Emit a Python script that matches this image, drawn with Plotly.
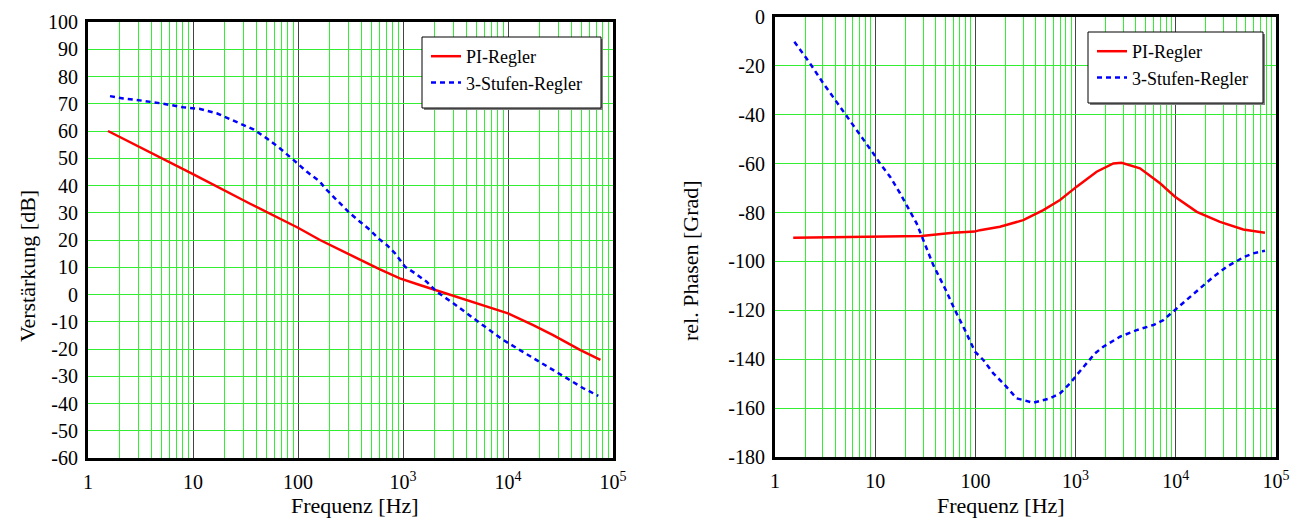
import plotly.graph_objects as go

# ---------------- data ----------------
# Gain (left plot)
pi_gain_f = [1.55, 3, 10, 35, 100, 162, 200, 251, 389, 603, 933, 1445, 2090, 3467, 6310, 10000,
             17380, 26900, 49000, 75900]
pi_gain_db = [60, 54.5, 44.2, 33.3, 24.5, 20.0, 18.2, 16.4, 12.8, 9.2, 5.9, 3.5, 1.5, -1.0, -4.2,
              -6.9, -11.2, -14.9, -20.4, -24.0]

st_gain_f = [1.62, 2.17, 2.91, 4.85, 8.09, 11.7, 16.8, 28.1, 37.6, 50.4, 67.5, 90.4, 121, 162, 181,
             225, 313, 389, 485, 582, 700, 839, 1045, 1300, 1679, 2094, 3013, 4677, 6745, 9016,
             13000, 18750, 25120, 36220, 52120, 72440]
st_gain_db = [72.8, 71.9, 71.4, 70.2, 68.7, 68.1, 66.5, 62.6, 60.6, 57.3, 53.6, 49.4, 45.1, 41.4,
              39.0, 35.3, 29.8, 26.7, 23.7, 20.6, 18.2, 15.1, 10.2, 7.8, 4.7, 1.0, -3.2, -8.7,
              -13.0, -16.7, -20.4, -24.0, -27.1, -30.7, -34.4, -37.2]

# Phase (right plot)
pi_phase_f = [1.52, 5, 10, 29, 60, 98, 111, 176, 300, 476, 699, 1025, 1622, 2380, 2880, 4390,
              6960, 9820, 16200, 27600, 47200, 77600]
pi_phase_deg = [-90.3, -90.1, -90.0, -89.6, -88.3, -87.8, -87.2, -85.8, -83.1, -79.0, -74.9, -69.4,
                -63.3, -59.9, -59.6, -61.9, -68.0, -73.5, -79.7, -83.8, -86.9, -88.3]

st_phase_f = [1.56, 2.23, 3.03, 4.13, 5.0, 6.53, 7.91, 9.57, 11.17, 14.06, 17.7, 21.4, 25.9, 29.1,
              38, 49.7, 62.5, 78.7, 99, 120, 151, 190, 258, 378, 555, 699, 880, 1025, 1290, 1563,
              1890, 2775, 4070, 5970, 7500, 9820, 13300, 18100, 23700, 32200, 47200, 59400, 77600]
st_phase_deg = [-10.1, -18.9, -27.1, -34.7, -39.4, -46.2, -51.0, -55.8, -59.9, -65.3, -72.1, -78.3,
                -84.4, -89.6, -101.5, -111.0, -119.9, -128.1, -136.9, -140.3, -145.8, -149.9,
                -156.0, -157.8, -156.0, -154.0, -149.9, -146.5, -141.7, -137.6, -134.9, -130.8,
                -128.1, -126.0, -124.0, -119.9, -115.1, -110.3, -106.3, -102.2, -98.3, -96.7, -95.6]

series_names = ["PI-Regler", "3-Stufen-Regler"]

# tick labels
x_decades = [1, 10, 100, 1000, 10000, 100000]
x_decade_labels = ["1", "10", "100", "10<sup>3</sup>", "10<sup>4</sup>", "10<sup>5</sup>"]
gain_ticks = list(range(-60, 101, 10))
phase_ticks = list(range(-180, 1, 20))

# ---------------- styling ----------------
W, H = 1297, 518
FONT = "Liberation Serif"
GREEN = "#33EE33"
DECADE = "#444444"
RED = "#FF0000"
BLUE = "#0000FF"

# minor log grid positions 2..9 x 10^k (drawn as green grid)
minor_vals = [d * m for d in x_decades[:-1] for m in range(2, 10)]


def px_x(p):
    return p / W


def px_y(p):
    return 1 - p / H


fig = go.Figure()

fig.add_trace(go.Scatter(x=pi_gain_f, y=pi_gain_db, name=series_names[0], mode="lines",
                         line=dict(color=RED, width=2.5), xaxis="x", yaxis="y", legend="legend"))
fig.add_trace(go.Scatter(x=st_gain_f, y=st_gain_db, name=series_names[1], mode="lines",
                         line=dict(color=BLUE, width=2.5, dash="5px,4px"), xaxis="x", yaxis="y",
                         legend="legend"))
fig.add_trace(go.Scatter(x=pi_phase_f, y=pi_phase_deg, name=series_names[0], mode="lines",
                         line=dict(color=RED, width=2.5), xaxis="x2", yaxis="y2", legend="legend2"))
fig.add_trace(go.Scatter(x=st_phase_f, y=st_phase_deg, name=series_names[1], mode="lines",
                         line=dict(color=BLUE, width=2.5, dash="5px,4px"), xaxis="x2", yaxis="y2",
                         legend="legend2"))

tickfont = dict(family=FONT, size=20, color="black")

xcommon = dict(type="log", range=[0, 5], tickmode="array", tickvals=x_decades, ticktext=x_decade_labels,
               showgrid=True, gridcolor=DECADE, gridwidth=1.3, zeroline=False,
               minor=dict(tickmode="array", tickvals=minor_vals, showgrid=True, gridcolor=GREEN,
                          gridwidth=1, ticks=""),
               showline=True, linecolor="black", linewidth=3, mirror=True,
               ticks="outside", ticklen=4, tickcolor="rgba(0,0,0,0)", tickfont=tickfont,
               automargin=False)
ycommon = dict(showgrid=True, gridcolor=GREEN, gridwidth=1, zeroline=False,
               showline=True, linecolor="black", linewidth=3, mirror=True,
               ticks="outside", ticklen=3, tickcolor="rgba(0,0,0,0)", tickfont=tickfont,
               automargin=False, tickmode="array")

legend_style = dict(xanchor="left", yanchor="top", bgcolor="rgba(0,0,0,0)", borderwidth=0,
                    font=dict(family=FONT, size=18, color="black"))

fig.update_layout(
    width=W, height=H,
    margin=dict(l=0, r=0, t=0, b=0),
    paper_bgcolor="white", plot_bgcolor="white",
    font=dict(family=FONT, size=18, color="black"),
    xaxis=dict(domain=[px_x(88), px_x(613)], anchor="y", **xcommon),
    yaxis=dict(domain=[px_y(458), px_y(22)], anchor="x", range=[-60, 100],
               tickvals=gain_ticks, ticktext=[str(v) for v in gain_ticks], **ycommon),
    xaxis2=dict(domain=[px_x(775), px_x(1276)], anchor="y2", **xcommon),
    yaxis2=dict(domain=[px_y(457), px_y(17)], anchor="x2", range=[-180, 0],
                tickvals=phase_ticks, ticktext=[str(v) for v in phase_ticks], **ycommon),
    legend=dict(x=px_x(426), y=px_y(38), **legend_style),
    legend2=dict(x=px_x(1092), y=px_y(33), **legend_style),
    showlegend=True,
)

# legend frames with drop shadow
for (l, t, r, b) in ((422, 37, 601, 108), (1088, 32, 1263, 103)):
    fig.add_shape(type="rect", xref="paper", yref="paper",
                  x0=px_x(l + 2), x1=px_x(r + 2), y0=px_y(b + 2), y1=px_y(t + 2),
                  line=dict(width=0), fillcolor="#808080", layer="above")
    fig.add_shape(type="rect", xref="paper", yref="paper",
                  x0=px_x(l), x1=px_x(r), y0=px_y(b), y1=px_y(t),
                  line=dict(width=1, color="black"), fillcolor="white", layer="above")

titlefont = dict(family=FONT, size=22, color="black")
fig.add_annotation(text="Verstärkung [dB]", x=px_x(27), y=px_y(266), xref="paper", yref="paper",
                   textangle=-90, showarrow=False, font=titlefont, xanchor="center", yanchor="middle")
fig.add_annotation(text="rel. Phasen [Grad]", x=px_x(690), y=px_y(261), xref="paper", yref="paper",
                   textangle=-90, showarrow=False, font=titlefont, xanchor="center", yanchor="middle")
fig.add_annotation(text="Frequenz [Hz]", x=px_x(355), y=px_y(505), xref="paper", yref="paper",
                   showarrow=False, font=titlefont, xanchor="center", yanchor="middle")
fig.add_annotation(text="Frequenz [Hz]", x=px_x(1001), y=px_y(505), xref="paper", yref="paper",
                   showarrow=False, font=titlefont, xanchor="center", yanchor="middle")

fig.write_html("out.html", config={"displayModeBar": False},
               post_script="document.body.style.margin='0';")
